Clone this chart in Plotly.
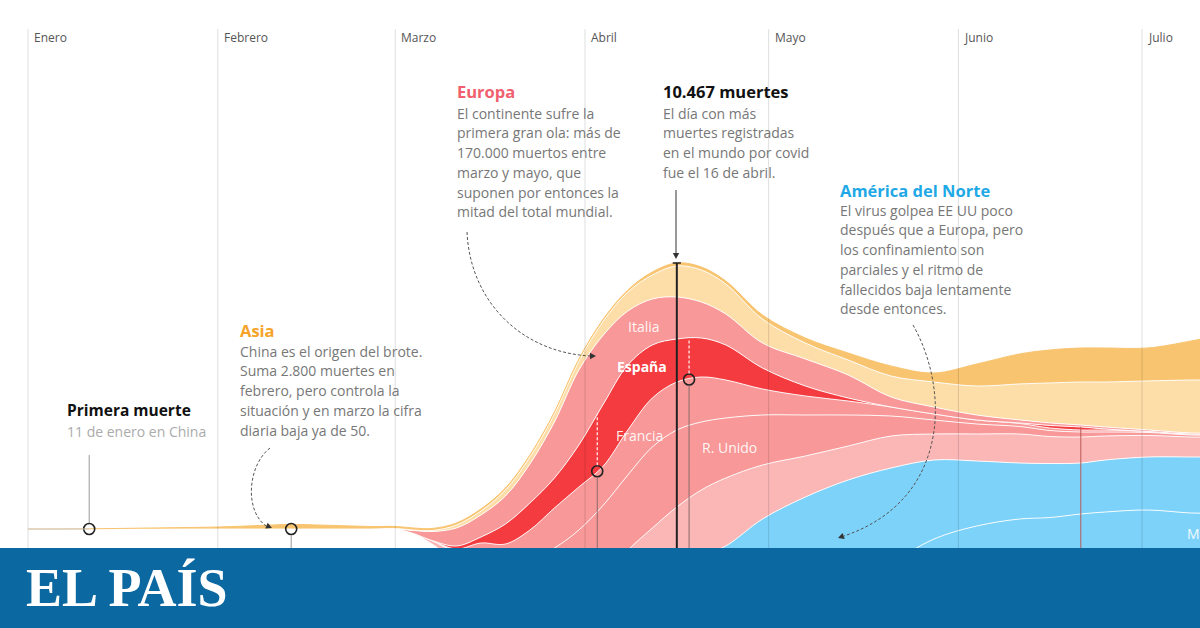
import numpy as np
import pandas as pd
import plotly.graph_objects as go

# ---------------- DATA (muertes diarias por región) ----------------
fechas = ["2020-01-01", "2020-01-11", "2020-01-21", "2020-02-01", "2020-02-08", "2020-02-13",
          "2020-02-20", "2020-02-26", "2020-03-01", "2020-03-04", "2020-03-07", "2020-03-11",
          "2020-03-15", "2020-03-19", "2020-03-23", "2020-03-27", "2020-03-31", "2020-04-04",
          "2020-04-08", "2020-04-12", "2020-04-16", "2020-04-20", "2020-04-24", "2020-04-30",
          "2020-05-07", "2020-05-14", "2020-05-21", "2020-05-28", "2020-06-04", "2020-06-11",
          "2020-06-16", "2020-06-21", "2020-06-25", "2020-07-02", "2020-07-09", "2020-07-13"]

asia = [0, 3, 15, 30, 53, 68, 53, 38, 30, 30, 30, 30, 30, 30, 30, 30, 30, 30,
        30, 45, 45, 45, 45, 60, 75, 105, 150, 135, 330, 450, 495, 510, 510, 495, 585, 660]
oriente_medio = [0, 0, 0, 0, 0, 0, 0, 0, 8, 8, 15, 45, 60, 90, 105, 120, 135, 210,
                 285, 360, 465, 480, 450, 360, 240, 225, 315, 375, 435, 540, 600, 645, 675, 735, 795, 795]
italia = [0, 0, 0, 0, 0, 0, 0, 0, 0, 45, 135, 270, 330, 420, 585, 840, 1125, 1035,
          810, 690, 630, 540, 465, 375, 405, 345, 150, 105, 75, 45, 38, 30, 30, 23, 15, 15]
espana = [0, 0, 0, 0, 0, 0, 0, 0, 0, 0, 0, 45, 90, 300, 405, 450, 630, 930,
          975, 795, 645, 585, 525, 315, 150, 45, 0, 0, 0, 8, 38, 45, 15, 0, 0, 0]
francia = [0, 0, 0, 0, 0, 0, 0, 0, 0, 0, 0, 30, 90, 180, 450, 600, 645, 585,
           675, 735, 720, 675, 570, 390, 285, 210, 135, 90, 60, 45, 38, 30, 30, 15, 15, 15]
reino_unido = [0, 0, 0, 0, 0, 0, 0, 0, 0, 0, 0, 15, 45, 90, 225, 450, 750, 1050,
               1125, 1215, 1155, 1020, 900, 750, 615, 465, 300, 210, 150, 113, 90, 75, 60, 45, 30, 30]
resto_europa = [0, 0, 0, 0, 0, 0, 0, 0, 0, 0, 52, 105, 75, 150, 300, 450, 675, 825,
                900, 975, 975, 990, 1020, 810, 615, 510, 480, 390, 405, 435, 405, 390, 360, 323, 300, 300]
ee_uu = [0, 0, 0, 0, 0, 0, 0, 0, 0, 0, 0, 0, 15, 60, 150, 375, 900, 1500,
         1950, 2100, 2175, 2100, 2025, 1875, 1725, 1575, 1425, 1185, 975, 840, 810, 765, 780, 795, 840, 840]
mexico = [0, 0, 0, 0, 0, 0, 0, 0, 0, 0, 0, 0, 0, 0, 0, 0, 30, 45,
          60, 75, 90, 105, 120, 150, 210, 300, 375, 450, 525, 600, 630, 660, 675, 675, 675, 675]
# desplazamiento de la base de la corriente (streamgraph offset)
base_corriente = [0, 0, 0, 0, 0, 0, 0, 0, 0, -68, -225, -450, -435, -705, -1140, -1560, -2370, -3060,
                  -3225, -3135, -2910, -2610, -2400, -1875, -1455, -1140, -885, -600, -480, -450,
                  -458, -435, -420, -390, -435, -435]

meses = ["Enero", "Febrero", "Marzo", "Abril", "Mayo", "Junio", "Julio"]
inicio_mes = ["2020-01-01", "2020-02-01", "2020-03-01", "2020-04-01", "2020-05-01", "2020-06-01", "2020-07-01"]

hito_primera_muerte = "2020-01-11"
hito_asia = "2020-02-13"
hitos_espana = ["2020-04-03", "2020-04-18"]
dia_pico = "2020-04-16"
dia_revision = "2020-06-21"

# ---------------- LAYOUT CONSTANTS ----------------
W, H = 1200, 628
X0_PX, PX_DIA = 28, 6.121
Y0_PX, MUERTES_PX = 529, 15
FOOTER_PX = 548

inicio = pd.Timestamp("2020-01-01")
x = pd.to_datetime(fechas)
dias = ((x - inicio) / pd.Timedelta(days=1)).to_numpy()

def px(v):
    return v / W

def py(v):
    return 1 - v / H

def fmt(ts):
    return pd.Timestamp(ts).strftime("%Y-%m-%d %H:%M:%S")

x_range = [fmt(inicio - pd.Timedelta(days=X0_PX / PX_DIA)),
           fmt(inicio + pd.Timedelta(days=(W - X0_PX) / PX_DIA))]
y_range = [-(H - Y0_PX) * MUERTES_PX, Y0_PX * MUERTES_PX]

capas = [  # de abajo a arriba
    ("México", mexico, "#7dd2fa"),
    ("EE UU y Canadá", ee_uu, "#7dd2fa"),
    ("Resto de Europa", resto_europa, "#fbb6b6"),
    ("R. Unido", reino_unido, "#f89898"),
    ("Francia", francia, "#f89898"),
    ("España", espana, "#f43c40"),
    ("Italia", italia, "#f89898"),
    ("Oriente Medio", oriente_medio, "#fddea9"),
    ("Asia", asia, "#f8c46f"),
]

fig = go.Figure()
acum = np.array(base_corriente, dtype=float)
fig.add_trace(go.Scatter(x=x, y=acum, mode="lines",
                         line=dict(width=0, shape="spline", smoothing=1),
                         hoverinfo="skip", showlegend=False))
bordes = {}
for i, (nombre, vals, color) in enumerate(capas):
    abajo = acum.copy()
    acum = acum + np.array(vals, dtype=float)
    bordes[nombre] = (abajo, acum.copy())
    es_tope = i == len(capas) - 1
    fig.add_trace(go.Scatter(
        x=x, y=acum, mode="lines", fill="tonexty", fillcolor=color,
        line=dict(color=color if es_tope else "rgba(255,255,255,0.9)", width=1,
                  shape="spline", smoothing=1),
        name=nombre, hoverinfo="skip", showlegend=False))


def en(fecha, serie):
    d = (pd.Timestamp(fecha) - inicio) / pd.Timedelta(days=1)
    return float(np.interp(d, dias, serie))

base_arr = np.array(base_corriente, dtype=float)
ef = bordes["España"][0]
ie = bordes["España"][1]
tope = bordes["Asia"][1]

shapes = []
annots = []

# vertical month lines + labels
for mes, f in zip(meses, inicio_mes):
    shapes.append(dict(type="line", xref="x", yref="paper", x0=f, x1=f,
                       y0=py(29), y1=py(FOOTER_PX),
                       line=dict(color="rgba(0,0,0,0.13)", width=1), layer="above"))
    annots.append(dict(text=mes, x=f, y=py(37), xref="x", yref="paper", xanchor="left",
                       yanchor="middle", xshift=4, showarrow=False,
                       font=dict(family="Open Sans", size=12, color="#555555")))

# zero line before first death
shapes.append(dict(type="line", xref="x", yref="y", x0=inicio_mes[0], x1=hito_primera_muerte,
                   y0=0, y1=0, line=dict(color="#cccccc", width=1), layer="above"))

# first death stem
shapes.append(dict(type="line", xref="x", yref="paper", x0=hito_primera_muerte, x1=hito_primera_muerte,
                   y0=py(455), y1=py(Y0_PX - 6), line=dict(color="#999999", width=1), layer="above"))
# asia stem down
shapes.append(dict(type="line", xref="x", yref="paper", x0=hito_asia, x1=hito_asia,
                   y0=py(Y0_PX + 6), y1=py(FOOTER_PX), line=dict(color="#999999", width=1), layer="above"))

# España hitos: white dashed across band, gray below
for f in hitos_espana:
    y_ef = en(f, ef)
    y_ie = en(f, ie)
    shapes.append(dict(type="line", xref="x", yref="y", x0=f, x1=f, y0=y_ef + 6 * MUERTES_PX, y1=y_ie,
                       line=dict(color="rgba(255,255,255,0.95)", width=1.2, dash="3px,2px"), layer="above"))
    shapes.append(dict(type="line", xref="x", yref="y", x0=f, x1=f, y0=y_range[0], y1=y_ef - 6 * MUERTES_PX,
                       line=dict(color="#8a6a6a", width=1), layer="above"))

# peak line
y_pico = en(dia_pico, tope)
shapes.append(dict(type="line", xref="x", yref="y", x0=dia_pico, x1=dia_pico, y0=y_range[0], y1=y_pico,
                   line=dict(color="#222222", width=2), layer="above"))
cap = pd.Timedelta(hours=16)
shapes.append(dict(type="line", xref="x", yref="y",
                   x0=fmt(pd.Timestamp(dia_pico) - cap), x1=fmt(pd.Timestamp(dia_pico) + cap),
                   y0=y_pico, y1=y_pico, line=dict(color="#222222", width=1.5), layer="above"))

# revision line (June)
y_rev = en(dia_revision, ie)
shapes.append(dict(type="line", xref="x", yref="y", x0=dia_revision, x1=dia_revision,
                   y0=y_range[0], y1=y_rev, line=dict(color="#b85a56", width=1), layer="above"))

# footer
shapes.append(dict(type="rect", xref="paper", yref="paper", x0=0, x1=1, y0=0, y1=py(FOOTER_PX),
                   fillcolor="#0c68a0", line=dict(width=0), layer="above"))


def curva(p0, c1, c2, p1, color="#555555", dash="3px,2px"):
    path = (f"M {px(p0[0])} {py(p0[1])} C {px(c1[0])} {py(c1[1])} "
            f"{px(c2[0])} {py(c2[1])} {px(p1[0])} {py(p1[1])}")
    shapes.append(dict(type="path", path=path, xref="paper", yref="paper",
                       line=dict(color=color, width=1, dash=dash), layer="above"))


def punta(tip, frm, color="#333333", largo=6, ancho=3.2):
    tx, ty = tip
    fx, fy = frm
    dx, dy = tx - fx, ty - fy
    n = (dx * dx + dy * dy) ** 0.5
    ux, uy = dx / n, dy / n
    bx, by = tx - ux * largo, ty - uy * largo
    p1 = (bx - uy * ancho, by + ux * ancho)
    p2 = (bx + uy * ancho, by - ux * ancho)
    path = (f"M {px(tx)} {py(ty)} L {px(p1[0])} {py(p1[1])} "
            f"L {px(p2[0])} {py(p2[1])} Z")
    shapes.append(dict(type="path", path=path, xref="paper", yref="paper",
                       fillcolor=color, line=dict(width=0), layer="above"))

# Europa arrow
curva((467, 232), (470, 300), (520, 352), (590, 356))
punta((596, 356), (580, 356))
# Asia arrow
curva((270, 448), (248, 465), (244, 510), (266, 526))
punta((272, 528), (258, 522))
# América arrow
curva((913, 325), (950, 390), (950, 500), (844, 536))
punta((838, 538), (852, 533))
# 10.467 arrow
shapes.append(dict(type="line", xref="paper", yref="paper", x0=px(676), x1=px(676), y0=py(190), y1=py(253),
                   line=dict(color="#333333", width=1), layer="above"))
punta((676, 259), (676, 250))

# markers
hx = [hito_primera_muerte, hito_asia] + hitos_espana
hy = [en(hito_primera_muerte, base_arr), en(hito_asia, base_arr)] + [en(f, ef) for f in hitos_espana]
fig.add_trace(go.Scatter(x=hx, y=hy, mode="markers", hoverinfo="skip", showlegend=False,
                         marker=dict(symbol="circle-open", size=11, color="#222222",
                                     line=dict(width=1.6))))


def texto(t, xx, yy, size=14, color="#777777", bold=False, anchor="left", family="Open Sans"):
    annots.append(dict(text=f"<b>{t}</b>" if bold else t, x=px(xx), y=py(yy), xref="paper", yref="paper",
                       xanchor=anchor, yanchor="middle", showarrow=False,
                       font=dict(family=family, size=size, color=color)))


def bloque(titulo, color_t, lineas, xx, y_t, y_l0, paso=19.8):
    texto(titulo, xx, y_t, size=16.5, color=color_t, bold=True)
    for k, ln in enumerate(lineas):
        texto(ln, xx, y_l0 + k * paso)

europa_txt = ["El continente sufre la", "primera gran ola: más de", "170.000 muertos entre",
              "marzo y mayo, que", "suponen por entonces la", "mitad del total mundial."]
pico_txt = ["El día con más", "muertes registradas", "en el mundo por covid", "fue el 16 de abril."]
america_txt = ["El virus golpea EE UU poco", "después que a Europa, pero", "los confinamiento son",
               "parciales y el ritmo de", "fallecidos baja lentamente", "desde entonces."]
asia_txt = ["China es el origen del brote.", "Suma 2.800 muertes en", "febrero, pero controla la",
            "situación y en marzo la cifra", "diaria baja ya de 50."]

bloque("Europa", "#f0606e", europa_txt, 455, 92, 113)
bloque("10.467 muertes", "#111111", pico_txt, 661, 92, 113)
bloque("América del Norte", "#1ea9e6", america_txt, 838, 190, 210)
bloque("Asia", "#f5a329", asia_txt, 238, 330, 351)
texto("Primera muerte", 65, 410, size=15.5, color="#111111", bold=True)
texto("11 de enero en China", 65, 431, color="#ababab")

# layer labels
lab = "rgba(255,255,255,0.92)"
texto("Italia", 644, 326, color=lab, anchor="center")
texto("España", 642, 366, color="#ffffff", bold=True, anchor="center")
texto("Francia", 639, 435, color=lab, anchor="center")
texto("R. Unido", 730, 448, color=lab, anchor="center")
texto("México", 1185, 533, color=lab, anchor="left")

# logo
annots.append(dict(text="<b>EL PAÍS</b>", x=px(24), y=py(588), xref="paper", yref="paper",
                   xanchor="left", yanchor="middle", showarrow=False,
                   font=dict(family="Liberation Serif", size=54, color="#ffffff")))

fig.update_layout(
    width=W, height=H, margin=dict(l=0, r=0, t=0, b=0),
    paper_bgcolor="white", plot_bgcolor="white",
    xaxis=dict(type="date", range=x_range, visible=False, showgrid=False, fixedrange=True),
    yaxis=dict(range=y_range, visible=False, showgrid=False, zeroline=False, fixedrange=True),
    shapes=shapes, annotations=annots, showlegend=False,
)

fig.write_html("out.html", config={"displayModeBar": False},
               post_script="document.body.style.margin='0';")
